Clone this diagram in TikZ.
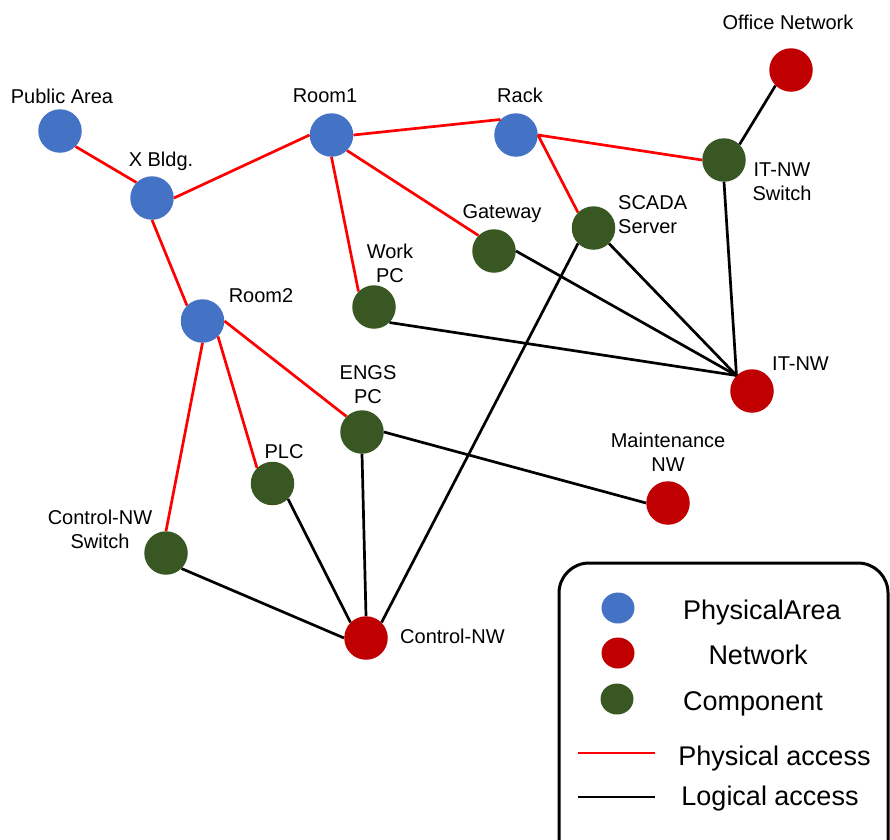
\documentclass[tikz,border=0pt]{standalone}
\usepackage{fontspec}
\setmainfont{Liberation Sans}
\usetikzlibrary{shapes.geometric}
\definecolor{areablue}{HTML}{4472C4}
\definecolor{netred}{HTML}{C00000}
\definecolor{compgreen}{HTML}{385723}
\begin{document}
\begin{tikzpicture}[x=1pt,y=-1pt,
  dot/.style={circle, minimum size=43.5pt, inner sep=0pt, draw=none},
  area/.style={dot, fill=areablue},
  net/.style={dot, fill=netred},
  comp/.style={dot, fill=compgreen},
  lbl/.style={font=\fontsize{20}{24}\selectfont, inner sep=0pt, anchor=base, align=center},
  keytext/.style={font=\fontsize{27}{32}\selectfont, inner sep=0pt, anchor=base},
  keydot/.style={ellipse, minimum width=33pt, minimum height=31pt, inner sep=0pt},
  phys/.style={draw=red, line width=2.7pt},
  logic/.style={draw=black, line width=2.7pt},
]
\useasboundingbox (0,0) rectangle (890,839);

% physical areas
\node[area] (pub)  at (60,131) {};
\node[area] (xb)   at (152,198) {};
\node[area] (r1)   at (331.5,135) {};
\node[area] (rack) at (516,135) {};
\node[area] (r2)   at (202.5,321) {};
% networks
\node[net] (office) at (791,70) {};
\node[net] (itnw)   at (752,391) {};
\node[net] (maint)  at (668,503) {};
\node[net] (cnw)    at (366,638) {};
% components
\node[comp] (itsw)  at (724,160) {};
\node[comp] (scada) at (593.5,228) {};
\node[comp] (gw)    at (494,251) {};
\node[comp] (wpc)   at (374,307) {};
\node[comp] (engs)  at (362,432) {};
\node[comp] (plc)   at (272.5,483.5) {};
\node[comp] (csw)   at (166,553) {};

% physical access
\draw[phys] (pub.315) -- (xb.135);
\draw[phys] (xb.east) -- (r1.west);
\draw[phys] (xb.south) -- (r2.135);
\draw[phys] (r1.east) -- (rack.135);
\draw[phys] (r1.315) -- (gw.135);
\draw[phys] (r1.south) -- (wpc.135);
\draw[phys] (rack.east) -- (itsw.west);
\draw[phys] (rack.east) -- (scada.135);
\draw[phys] (r2.east) -- (engs.135);
\draw[phys] (r2.315) -- (plc.135);
\draw[phys] (r2.south) -- (csw.north);

% logical access
\draw[logic] (office.225) -- (itsw.45);
\draw[logic] (itsw.south) -- (itnw.135);
\draw[logic] (scada.315) -- (itnw.135);
\draw[logic] (gw.east) -- (itnw.135);
\draw[logic] (wpc.315) -- (itnw.135);
\draw[logic] (scada.225) -- (cnw.45);
\draw[logic] (engs.east) -- (maint.west);
\draw[logic] (engs.south) -- (cnw.north);
\draw[logic] (plc.315) -- (cnw.135);
\draw[logic] (csw.315) -- (cnw.west);

% labels (two-line labels are placed by the baseline of their last line)
\node[lbl] (lpub)    at (62,103)  {Public Area};
\node[lbl] (lxb)     at (161,166) {X Bldg.};
\node[lbl] (lr1)     at (325,102) {Room1};
\node[lbl] (lrack)   at (520,102) {Rack};
\node[lbl] (lr2)     at (261,302) {Room2};
\node[lbl] (loffice) at (788,29)  {Office Network};
\node[lbl] (litsw)   at (782,200) {IT-NW\\Switch};
\node[lbl, anchor=base west, align=left] (lscada) at (618,233) {SCADA\\Server};
\node[lbl] (lgw)     at (502,218) {Gateway};
\node[lbl] (lwpc)    at (390,282) {Work\\PC};
\node[lbl, anchor=base west] (litnw) at (772,370) {IT-NW};
\node[lbl] (lengs)   at (368,403) {ENGS\\PC};
\node[lbl] (lmaint)  at (668,471) {Maintenance\\NW};
\node[lbl] (lplc)    at (284,458) {PLC};
\node[lbl] (lcsw)    at (100,548) {Control-NW\\Switch};
\node[lbl, anchor=base west] (lcnw) at (400,643) {Control-NW};

% legend
\draw[line width=3pt, rounded corners=30pt] (559,563) rectangle (888,880);
\node[keydot, fill=areablue] (karea) at (618,608) {};
\node[keydot, fill=netred]   (knet)  at (618,653) {};
\node[keydot, fill=compgreen] (kcomp) at (617,699) {};
\node[keytext] (tarea) at (762,619) {PhysicalArea};
\node[keytext] (tnet)  at (758,664) {Network};
\node[keytext] (tcomp) at (753,710) {Component};
\coordinate (kp1) at (578,753);
\coordinate (kp2) at (655,753);
\coordinate (kl1) at (578,797);
\coordinate (kl2) at (655,797);
\draw[phys]  (kp1) -- (kp2);
\draw[logic] (kl1) -- (kl2);
\node[keytext] (tphys)  at (774.5,765) {Physical access};
\node[keytext] (tlogic) at (770,805)   {Logical access};
\end{tikzpicture}
\end{document}
